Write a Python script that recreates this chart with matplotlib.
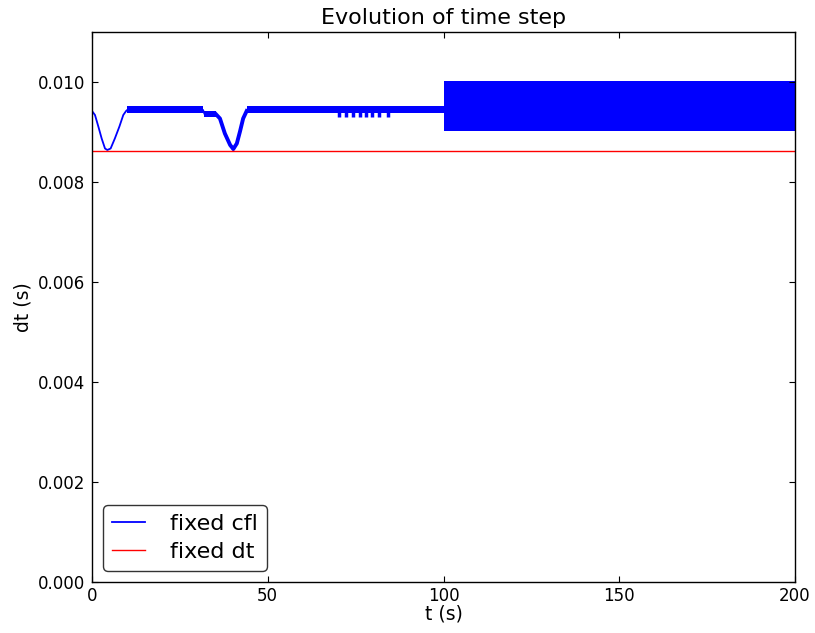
import numpy as np
import matplotlib
matplotlib.use("Agg")
import matplotlib.pyplot as plt

# blue curve (fixed cfl): centre line
T_CFL = [0, 0.85, 1.8, 2.75, 3.7, 4.36, 5.3, 6.5, 7.8, 8.9, 9.7, 10, 31.6, 32, 35.2,
         36.4, 37.8, 39.3, 40.2, 41.2, 42.1, 43.0, 44.0, 100]
DT_CFL = [0.00942, 0.00934, 0.00911, 0.00887, 0.00867, 0.00864, 0.00867, 0.00887,
          0.00911, 0.00934, 0.00942, 0.00944, 0.00944, 0.00936, 0.00936,
          0.00927, 0.00897, 0.00874, 0.00864, 0.00877, 0.00901, 0.00927, 0.00942, 0.00944]

# thick dip near t=40 (rapid small oscillation makes the line look wide)
T_DIP2 = [35.2, 36.4, 37.8, 39.3, 40.2, 41.2, 42.1, 43.0, 44.0]
DT_DIP2 = [0.00936, 0.00927, 0.00897, 0.00874, 0.00866, 0.00877, 0.00901, 0.00927, 0.00942]

# bands where dt flips between two values every step
BAND_T0 = [10, 32, 44.0, 100]
BAND_T1 = [31.6, 35.2, 100, 200]
BAND_LO = [0.00937, 0.00929, 0.00937, 0.00901]
BAND_HI = [0.00951, 0.00943, 0.00951, 0.01002]

# short drops around t=70..85
SPIKE_T = [70.4, 72.3, 74.3, 76.2, 77.9, 79.8, 81.7, 84.3]
SPIKE_LO = 0.00930
SPIKE_HI = 0.00940

# red line (fixed dt)
T_FIX = [0, 200]
DT_FIX = [0.00862, 0.00862]

plt.rcParams.update({
    "font.family": "DejaVu Sans",
    "font.size": 12,
    "xtick.direction": "in",
    "ytick.direction": "in",
    "xtick.top": True,
    "ytick.right": True,
    "xtick.major.size": 4,
    "ytick.major.size": 4,
    "xtick.major.pad": 3.5,
    "ytick.major.pad": 5,
    "axes.linewidth": 1.0,
})

fig = plt.figure(figsize=(8.15, 6.33), dpi=100)
ax = fig.add_axes([92 / 815, 1 - 582 / 633, (795 - 92) / 815, (582 - 32) / 633])

ax.plot(T_CFL, DT_CFL, color="b", linewidth=1.3, label="fixed cfl")
ax.plot(T_DIP2, DT_DIP2, color="b", linewidth=2.8)
for t0, t1, lo, hi in zip(BAND_T0, BAND_T1, BAND_LO, BAND_HI):
    ax.fill_between([t0, t1], [lo, lo], [hi, hi], color="b", linewidth=0)
ax.vlines(SPIKE_T, SPIKE_LO, SPIKE_HI, color="b", linewidth=2.5)
ax.plot(T_FIX, DT_FIX, color="r", linewidth=1.0, label="fixed dt")

ax.set_xlim(0, 200)
ax.set_ylim(0, 0.011)
ax.set_xticks([0, 50, 100, 150, 200])
ax.set_yticks([0.000, 0.002, 0.004, 0.006, 0.008, 0.010])
ax.yaxis.set_major_formatter(matplotlib.ticker.FormatStrFormatter("%.3f"))
ax.set_xlabel("t (s)", fontsize=13.5, labelpad=0)
ax.set_ylabel("dt (s)", fontsize=13.5)
ax.set_title("Evolution of time step", fontsize=16)

leg = ax.legend(loc="lower left", fontsize=16, fancybox=True, handlelength=1.5,
                handletextpad=1.1, borderaxespad=0.5, labelspacing=0.35)
leg.get_frame().set_edgecolor("black")
leg.get_frame().set_linewidth(1.0)

fig.savefig("out.png", dpi=100, facecolor="white")
